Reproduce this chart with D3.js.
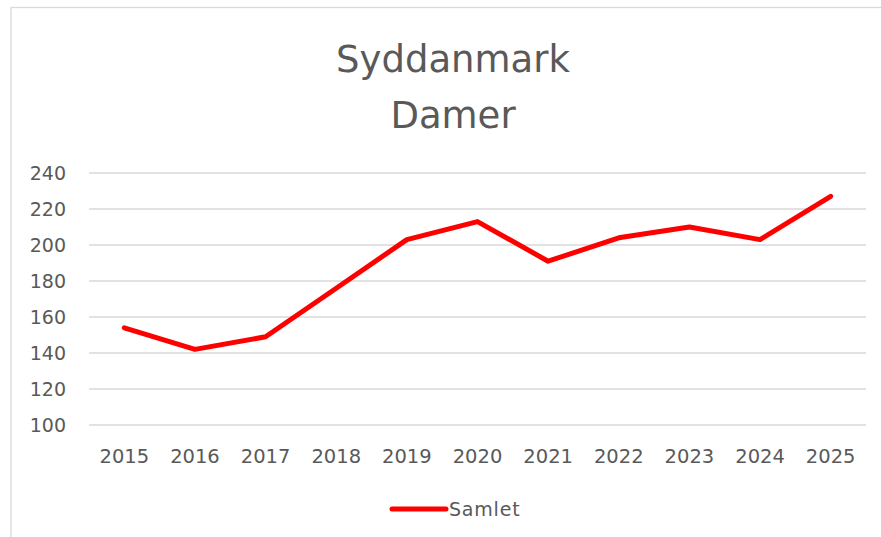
<!DOCTYPE html>
<html>
<head>
<meta charset="utf-8">
<script src="https://cdn.jsdelivr.net/npm/d3@7"></script>
<style>
html,body{margin:0;padding:0;background:#fff;}
svg{display:block;}
</style>
</head>
<body>
<svg id="chart" width="881" height="537"></svg>
<script>
const titleLines = ["Syddanmark", "Damer"];
const years = ["2015","2016","2017","2018","2019","2020","2021","2022","2023","2024","2025"];
const samlet = [154, 142, 149, 176, 203, 213, 191, 204, 210, 203, 227];
const yTicks = [100, 120, 140, 160, 180, 200, 220, 240];
const seriesName = "Samlet";

const svg = d3.select("#chart");
const W = 881, H = 537;
const font = "'DejaVu Sans', sans-serif";
const textColor = "#595959";

// chart border
svg.append("rect").attr("x", 11).attr("y", 7.5).attr("width", 900).attr("height", 600)
  .attr("fill", "#fff").attr("stroke", "#d9d9d9").attr("stroke-width", 1.3);

const plot = {left: 89, right: 866, top: 173, bottom: 425};
const x = d3.scaleBand().domain(years).range([plot.left, plot.right]);
const y = d3.scaleLinear().domain([100, 240]).range([plot.bottom, plot.top]);

// title
svg.append("text").attr("x", 453).attr("y", 72).attr("text-anchor", "middle")
  .attr("font-family", font).attr("font-size", 37).attr("fill", textColor)
  .selectAll("tspan").data(titleLines).join("tspan")
  .attr("x", 453).attr("dy", (d, i) => i === 0 ? 0 : 56).text(d => d);

// gridlines
svg.append("g").selectAll("line").data(yTicks).join("line")
  .attr("x1", plot.left).attr("x2", plot.right)
  .attr("y1", d => y(d)).attr("y2", d => y(d))
  .attr("stroke", "#d9d9d9").attr("stroke-width", 1.3);

// y axis
const yAxis = d3.axisLeft(y).tickValues(yTicks).tickSize(0).tickPadding(0);
const gy = svg.append("g").attr("transform", `translate(66,0)`).call(yAxis);
gy.select(".domain").remove();
gy.selectAll("text").attr("font-family", font).attr("font-size", 19)
  .attr("fill", textColor).attr("dy", "0.36em");

// x axis
const xAxis = d3.axisBottom(x).tickSize(0).tickPadding(0);
const gx = svg.append("g").attr("transform", `translate(0,449)`).call(xAxis);
gx.select(".domain").remove();
gx.selectAll("text").attr("font-family", font).attr("font-size", 19.5)
  .attr("fill", textColor).attr("dy", "0.71em");

// line
const line = d3.line().x((d, i) => x(years[i]) + x.bandwidth() / 2).y(d => y(d));
svg.append("path").datum(samlet).attr("d", line)
  .attr("fill", "none").attr("stroke", "#ff0000").attr("stroke-width", 5)
  .attr("stroke-linejoin", "round").attr("stroke-linecap", "round");

// legend
const lg = svg.append("g");
lg.append("line").attr("x1", 392).attr("x2", 446).attr("y1", 509).attr("y2", 509)
  .attr("stroke", "#ff0000").attr("stroke-width", 5).attr("stroke-linecap", "round");
lg.append("text").attr("x", 449).attr("y", 509).attr("dy", "0.36em")
  .attr("font-family", font).attr("font-size", 19).attr("letter-spacing", 0.8)
  .attr("fill", textColor).text(seriesName);
</script>
</body>
</html>
